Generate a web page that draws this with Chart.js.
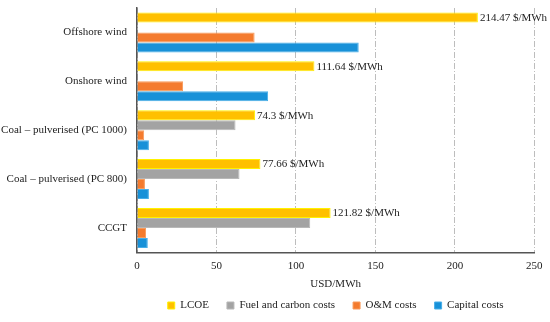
<!DOCTYPE html>
<html>
<head>
<meta charset="utf-8">
<script src="https://cdn.jsdelivr.net/npm/chart.js@4.4.1/dist/chart.umd.min.js"></script>
<style>
  html, body { margin: 0; padding: 0; background: #fff; }
  #wrap { width: 550px; height: 322px; }
</style>
</head>
<body>
<div id="wrap"><canvas id="chart"></canvas></div>
<script>
const categories = ["Offshore wind", "Onshore wind", "Coal \u2013 pulverised (PC 1000)", "Coal \u2013 pulverised (PC 800)", "CCGT"];
const lcoe = [214.47, 111.64, 74.3, 77.66, 121.82];
const fuelCarbon = [null, null, 62, 64.5, 109];
const omCosts = [74, 29, 4.5, 5, 5.7];
const capitalCosts = [139.5, 82.5, 7.5, 7.5, 6.8];
const xTicks = [0, 50, 100, 150, 200, 250];

const serif = "'Liberation Serif', 'Times New Roman', serif";

// value labels at the end of the LCOE bars
const lcoeLabels = {
  id: "lcoeLabels",
  afterDatasetsDraw(chart) {
    const ctx = chart.ctx;
    const meta = chart.getDatasetMeta(0);
    ctx.save();
    ctx.font = "11px " + serif;
    ctx.fillStyle = "#222";
    ctx.textBaseline = "middle";
    meta.data.forEach(function (bar, i) {
      ctx.fillText(lcoe[i] + " $/MWh", bar.x + 2, bar.y + 0.5);
    });
    ctx.restore();
  }
};

const ctx = document.getElementById("chart").getContext("2d");
new Chart(ctx, {
  type: "bar",
  data: {
    labels: categories,
    datasets: [
      { label: "LCOE", data: lcoe, backgroundColor: "#FFC000", borderColor: "#FFF200", borderWidth: 1 },
      { label: "Fuel and carbon costs", data: fuelCarbon, backgroundColor: "#A3A3A3", borderColor: "#B8B8B8", borderWidth: 1 },
      { label: "O&M costs", data: omCosts, backgroundColor: "#F47B2E", borderColor: "#F89A5A", borderWidth: 1 },
      { label: "Capital costs", data: capitalCosts, backgroundColor: "#1891D8", borderColor: "#47AEE8", borderWidth: 1 }
    ]
  },
  options: {
    indexAxis: "y",
    responsive: true,
    maintainAspectRatio: false,
    animation: false,
    layout: { padding: { left: 0, right: 13, top: 8, bottom: 1 } },
    datasets: { bar: { categoryPercentage: 0.82, barPercentage: 1.0 } },
    scales: {
      x: {
        min: 0,
        max: 250,
        afterBuildTicks: function (scale) {
          scale.ticks = xTicks.map(function (v) { return { value: v }; });
        },
        afterFit: function (scale) { scale.height = 29.6; },
        grid: { color: "#BDBDBD", drawTicks: false, lineWidth: 1 },
        border: { display: true, color: "#555", width: 1.5, dash: [6, 2, 1, 2] },
        ticks: { padding: 7.4, color: "#222", font: { family: serif, size: 11 } },
        title: { display: true, text: "USD/MWh", color: "#222", padding: { top: -2, bottom: -9 }, font: { family: serif, size: 11 } }
      },
      y: {
        afterFit: function (scale) {
          scale.width = 137;
          scale.paddingTop = 0;
          scale.paddingBottom = 0;
        },
        grid: { display: false, drawTicks: false },
        border: { display: true, color: "#555", width: 1.5 },
        ticks: { padding: 10, color: "#222", font: { family: serif, size: 11 } }
      }
    },
    plugins: {
      legend: {
        position: "bottom",
        fullSize: false,
        labels: {
          boxWidth: 7,
          boxHeight: 7,
          padding: 18,
          color: "#222",
          font: { family: serif, size: 11 }
        }
      },
      tooltip: { enabled: false }
    }
  },
  plugins: [lcoeLabels]
});
</script>
</body>
</html>
